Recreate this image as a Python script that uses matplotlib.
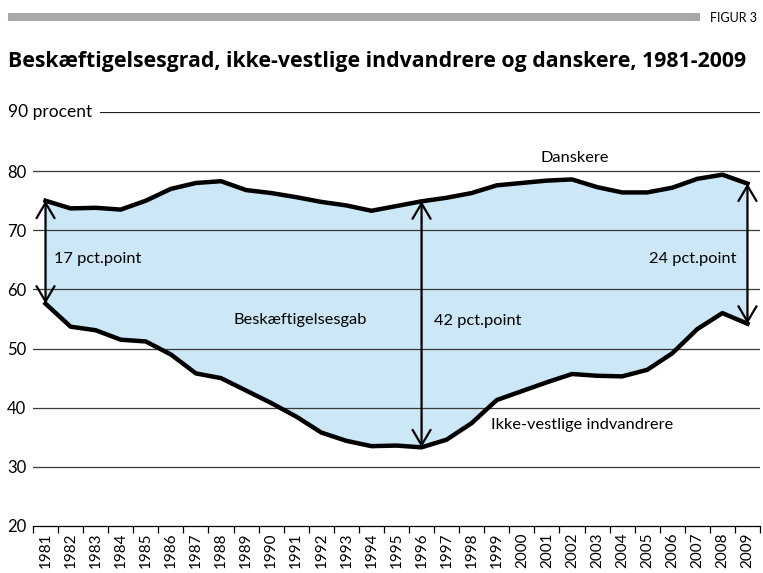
import matplotlib.pyplot as plt
import numpy as np

plt.rcParams['font.family'] = ['Lato', 'DejaVu Sans']

years = list(range(1981, 2010))
danskere = [75.0, 73.7, 73.8, 73.5, 75.0, 77.0, 78.0, 78.3, 76.8, 76.3,
            75.6, 74.8, 74.2, 73.3, 74.1, 74.9, 75.5, 76.3, 77.6, 78.0,
            78.4, 78.6, 77.3, 76.4, 76.4, 77.2, 78.7, 79.4, 77.9]
ikke_vestlige = [57.6, 53.7, 53.1, 51.5, 51.2, 49.0, 45.8, 45.0, 42.9, 40.8,
                 38.5, 35.8, 34.4, 33.5, 33.6, 33.3, 34.6, 37.4, 41.3, 42.8,
                 44.3, 45.7, 45.4, 45.3, 46.4, 49.2, 53.3, 56.0, 54.2]
yticks = [20, 30, 40, 50, 60, 70, 80]
gap_years = [1981, 1996, 2009]
gap_labels = ['17 pct.point', '42 pct.point', '24 pct.point']

W, H = 763, 573
fig = plt.figure(figsize=(W / 100, H / 100), dpi=100)
ax = fig.add_axes([33 / W, 1 - 526 / H, (760 - 33) / W, (526 - 112) / H])

x = np.arange(len(years))
ax.fill_between(x, ikke_vestlige, danskere, color='#cce7f5', zorder=1, lw=0)
for v in yticks[1:]:
    ax.axhline(v, color='#3a3a3a', lw=0.9, zorder=2)
ax.axhline(90, xmin=(100 - 33) / (760 - 33), color='#222222', lw=0.9, zorder=2)
ax.plot(x, danskere, color='black', lw=3.2, zorder=4, solid_joinstyle='round')
ax.plot(x, ikke_vestlige, color='black', lw=3.2, zorder=4, solid_joinstyle='round')

# gap arrows
for yr in gap_years:
    i = years.index(yr)
    ax.annotate('', xy=(i, ikke_vestlige[i]), xytext=(i, danskere[i]),
                arrowprops=dict(arrowstyle='<->,head_length=1.1,head_width=0.65',
                                lw=1.6, color='black', shrinkA=0, shrinkB=0),
                zorder=5)

fs = 11.8
ax.text(0.35, 65.1, gap_labels[0], fontsize=fs, va='center', ha='left')
ax.text(15.5, 54.6, gap_labels[1], fontsize=fs, va='center', ha='left')
ax.text(27.58, 65.1, gap_labels[2], fontsize=fs, va='center', ha='right')
ax.text(7.49, 54.8, 'Beskæftigelsesgab', fontsize=fs, va='center', ha='left')
ax.text(21.13, 82.3, 'Danskere', fontsize=fs, va='center', ha='center')
ax.text(17.78, 37.1, 'Ikke-vestlige indvandrere', fontsize=fs, va='center', ha='left')

ax.set_xlim(-0.5, len(years) - 0.5)
ax.set_ylim(20, 90)
ax.set_yticks(yticks)
ax.set_yticklabels([str(v) for v in yticks], fontsize=12)
ax.tick_params(axis='y', length=0, pad=5)
ax.set_xticks(x)
ax.set_xticklabels([str(y) for y in years], rotation=90, fontsize=11)
ax.set_xticks(np.arange(len(years) + 1) - 0.5, minor=True)
ax.tick_params(axis='x', which='major', length=0, pad=5)
ax.tick_params(axis='x', which='minor', length=5, width=0.9, direction='out')
for s in ['top', 'left', 'right']:
    ax.spines[s].set_visible(False)
ax.spines['bottom'].set_linewidth(0.9)
ax.set_facecolor('none')

fig.text(8 / W, 1 - 112 / H, '90 procent', fontsize=12.5, va='center', ha='left')

# header
fig.patches.append(plt.Rectangle((8 / W, 1 - 21 / H), (700 - 8) / W, 8 / H,
                                 transform=fig.transFigure, color='#a7a9ac', lw=0))
fig.text(757 / W, 1 - 18 / H, 'FIGUR 3', fontsize=9, va='center', ha='right')
fig.text(8 / W, 1 - 62 / H, 'Beskæftigelsesgrad, ikke-vestlige indvandrere og danskere, 1981-2009',
         fontsize=15.3, fontweight='bold', family=['Open Sans', 'DejaVu Sans'],
         va='center', ha='left')

fig.savefig('out.png', dpi=100)
